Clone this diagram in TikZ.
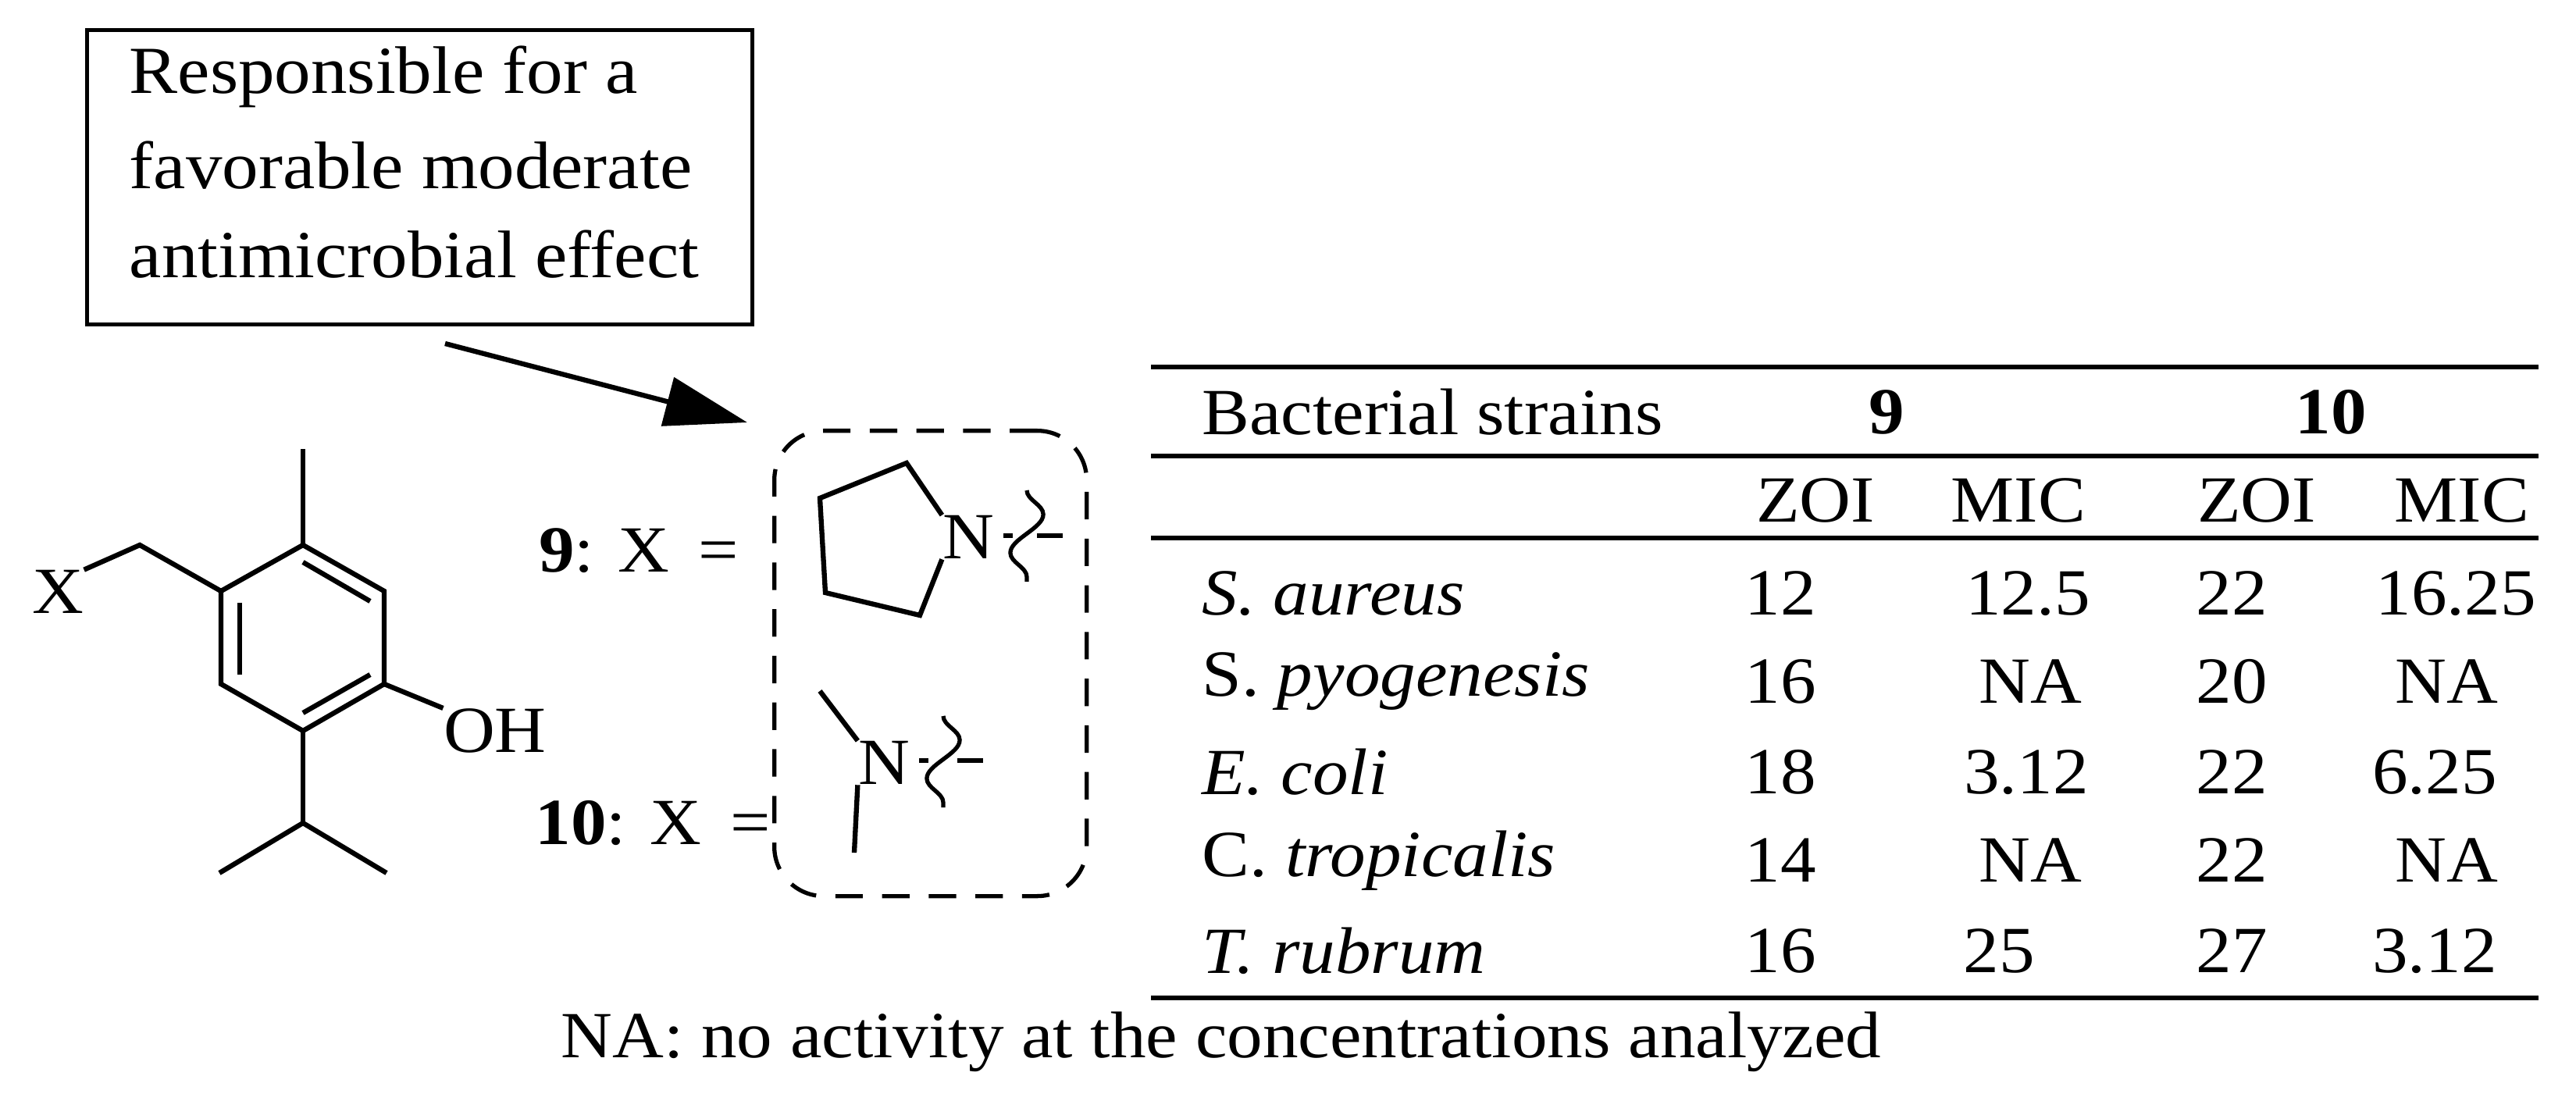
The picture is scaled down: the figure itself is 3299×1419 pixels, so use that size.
\documentclass[tikz,border=0pt]{standalone}
\usepackage{fontspec}
\setmainfont[FakeStretch=1.08]{Liberation Serif}
\usetikzlibrary{decorations.pathmorphing,arrows.meta}
\begin{document}
\begin{tikzpicture}[x=0.01cm,y=-0.01cm,
  bond/.style={line width=1.8pt},
  rule/.style={line width=1.6pt},
  txt/.style={font=\fontsize{24}{28}\selectfont, inner sep=0pt},
  btxt/.style={font=\fontsize{24.5}{28}\selectfont, inner sep=0pt},
  wav/.style={line width=1.5pt, decorate, decoration={snake, segment length=28, amplitude=6}}]
\useasboundingbox (0,0) rectangle (3299,1419);
% text box
\node[draw, line width=1.5pt, minimum width=852*0.01cm, minimum height=377*0.01cm, anchor=north west, inner sep=0pt] (box) at (109,36) {};
\node[btxt, anchor=west] (l1) at (165,98) {Responsible for a};
\node[btxt, anchor=west] (l2) at (165,212) {favorable moderate};
\node[btxt, anchor=west] (l3) at (165,326) {antimicrobial effect};
\coordinate (as) at (570,440);
\coordinate (at) at (957,541);
\draw[line width=1.8pt, -{Triangle[length=30pt,width=18pt]}] (as) -- (at);
% molecule
\coordinate (r1) at (388,698); \coordinate (r2) at (492,757); \coordinate (r3) at (492,876);
\coordinate (r4) at (388,936); \coordinate (r5) at (283,876); \coordinate (r6) at (283,757);
\draw[bond] (r1)--(r2)--(r3)--(r4)--(r5)--(r6)--cycle;
\draw[bond] (388,720)--(474,770);
\draw[bond] (307,772)--(307,864);
\draw[bond] (388,913)--(474,864);
\coordinate (me) at (388,575);
\draw[bond] (r1)--(me);
\coordinate (ch2) at (179,698);
\node[txt] (X) at (74,758) {X};
\draw[bond] (r6)--(ch2)--(X.north east);
\node[txt] (OH) at (634,936) {OH};
\draw[bond] (r3)--(OH.north west);
\coordinate (ip) at (388,1054); \coordinate (ip1) at (281,1118); \coordinate (ip2) at (495,1118);
\draw[bond] (r4)--(ip); \draw[bond] (ip1)--(ip)--(ip2);
% dashed box
\node[draw, line width=1.5pt, rounded corners=18pt, dash pattern=on 10pt off 7pt, minimum width=400*0.01cm, minimum height=596*0.01cm, anchor=north west, inner sep=0pt] (dbox) at (989,549) {};
\node[txt] (lab9) at (818,705) {\textbf{9}: X \,=};
\node[txt] (lab10) at (836,1054) {\textbf{10}: X \,=};
% pyrrolidine
\node[txt] (N1) at (1240,688) {N};
\coordinate (p1) at (1161,593); \coordinate (p2) at (1050,638); \coordinate (p3) at (1057,759); \coordinate (p4) at (1178,788);
\draw[bond] (N1.north west)--(p1)--(p2)--(p3)--(p4)--(N1.south west);
\draw[bond] (1285,686)--(1297,686);
\coordinate (w1a) at (1315,628); \coordinate (w1b) at (1315,745);
\draw[wav] (w1a)--(w1b);
\draw[bond] (1328,686)--(1361,686);
% dimethylamine
\node[txt] (N2) at (1132,977) {N};
\coordinate (m1) at (1050,885); \coordinate (m2) at (1094,1092);
\draw[bond] (m1)--(N2.north west);
\draw[bond] (N2.south west)--(m2);
\draw[bond] (1177,974)--(1189,974);
\coordinate (w2a) at (1208,917); \coordinate (w2b) at (1208,1034);
\draw[wav] (w2a)--(w2b);
\draw[bond] (1226,974)--(1259,974);
% table
\draw[rule] (1474,470)--(3251,470);
\draw[rule] (1474,584)--(3251,584);
\draw[rule] (1474,689)--(3251,689);
\draw[rule] (1474,1278)--(3251,1278);
\node[txt, anchor=west] (hb) at (1539,528) {Bacterial strains};
\node[txt] (h9) at (2416,528) {\textbf{9}};
\node[txt] (h10) at (2985,528) {\textbf{10}};
\node[txt] (z1) at (2325,641) {ZOI};
\node[txt] (m1h) at (2585,641) {MIC};
\node[txt] (z2) at (2890,641) {ZOI};
\node[txt] (m2h) at (3153,641) {MIC};
\foreach \y/\nm/\a/\b/\c/\d/\bx/\dx in {
  760/{\textit{S. aureus}}/12/12.5/22/16.25/2597/3145,
  873/{S. \textit{pyogenesis}}/16/NA/20/NA/2600/3133,
  989/{\textit{E. coli}}/18/3.12/22/6.25/2595/3118,
  1102/{C. \textit{tropicalis}}/14/NA/22/NA/2600/3133,
  1218/{\textit{T. rubrum}}/16/25/27/3.12/2560/3118}{
  \node[txt, anchor=west] at (1539,\y) {\nm};
  \node[txt] at (2280,\y) {\a};
  \node[txt] at (\bx,\y) {\b};
  \node[txt] at (2858,\y) {\c};
  \node[txt] at (\dx,\y) {\d};
}
\node[txt, anchor=east] (foot) at (2410,1334) {NA: no activity at the concentrations analyzed};
\end{tikzpicture}
\end{document}
